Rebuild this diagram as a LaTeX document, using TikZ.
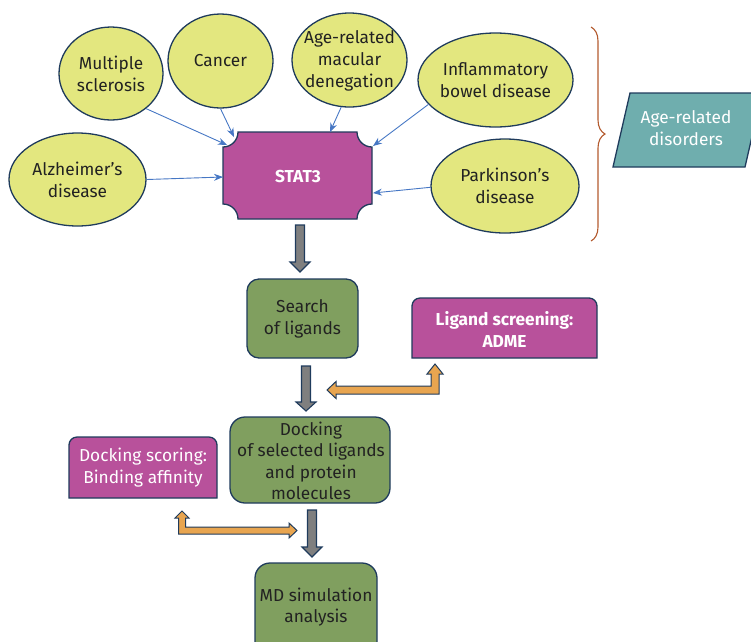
\documentclass[tikz,border=0pt]{standalone}
\usepackage{fontspec}
\setmainfont{Fira Sans}
\usetikzlibrary{shapes.geometric,arrows.meta,decorations.pathreplacing}
\definecolor{yel}{HTML}{E3E77F}
\definecolor{mag}{HTML}{B8519B}
\definecolor{grn}{HTML}{809F5F}
\definecolor{navy}{HTML}{1F3B5C}
\definecolor{barrow}{HTML}{4677C4}
\definecolor{teal2}{HTML}{6FAEAE}
\definecolor{brn}{HTML}{B35A2E}
\definecolor{org}{HTML}{E8A550}
\definecolor{gry}{HTML}{7F7F7F}
\definecolor{txt}{HTML}{222222}
\begin{document}
\begin{tikzpicture}[x=1pt,y=-1pt,
  dis/.style={ellipse,draw=navy,line width=1.3pt,fill=yel,inner sep=0pt},
  distext/.style={align=center,text=txt,font=\fontsize{17.3}{22}\selectfont},
  boxtext/.style={align=center,text=txt,font=\fontsize{17.3}{21.5}\selectfont},
  whitetext/.style={align=center,text=white,font=\fontsize{17.3}{21.5}\selectfont},
  whitebold/.style={align=center,text=white,font=\fontsize{17.3}{21.5}\selectfont\bfseries},
  outl/.style={draw=navy,line width=1.3pt},
  thin/.style={draw=barrow,line width=0.9pt,-{Stealth[length=9pt,width=7pt]}},
  blk/.style={draw=navy,line width=1.1pt,fill=gry},
  oblk/.style={draw=navy,line width=1pt,fill=org}]
\useasboundingbox (0,0) rectangle (751,641);

% disease ellipses
\node[dis,minimum width=104pt,minimum height=93pt] (ms) at (111,73.5) {};
\node[distext] at (ms) {Multiple\\sclerosis};
\node[dis,minimum width=105pt,minimum height=94pt] (can) at (220.5,61) {};
\node[distext] at (can) {Cancer};
\node[dis,minimum width=115pt,minimum height=94pt] (amd) at (349.5,60) {};
\node[distext] at (349.5,61) {Age-related\\macular\\denegation};
\node[dis,minimum width=155pt,minimum height=94pt] (ibd) at (495.5,80) {};
\node[distext] at (ibd) {Inflammatory\\bowel disease};
\node[dis,minimum width=137pt,minimum height=93pt] (alz) at (77.5,179.5) {};
\node[distext] at (alz) {Alzheimer's\\disease};
\node[dis,minimum width=148pt,minimum height=94pt] (park) at (505,186) {};
\node[distext] at (park) {Parkinson’s\\disease};

% STAT3
\draw[outl,fill=mag] (238,132) -- (357,132) .. controls (357,140.3) and (363.7,147) .. (372,147)
  -- (372,204) .. controls (363.7,204) and (357,210.7) .. (357,219)
  -- (238,219) .. controls (238,210.7) and (231.3,204) .. (223,204)
  -- (223,147) .. controls (231.3,147) and (238,140.3) .. (238,132) -- cycle;
\node[whitebold] (stat) at (298,176) {STAT3};
\coordinate (tms) at (227,145);
\coordinate (tcan) at (234,137);
\coordinate (tamd) at (330,132);
\coordinate (tibd) at (373,146);
\coordinate (talz) at (223,177);
\coordinate (tpark) at (373,193);
\draw[thin] (ms.-45) -- (tms);
\draw[thin] (can.-90) -- (tcan);
\draw[thin] (amd.-100) -- (tamd);
\draw[thin] (ibd.-160) -- (tibd);
\draw[thin] (alz.0) -- (talz);
\draw[thin] (park.181) -- (tpark);

% brace and age-related disorders
\draw[brn,line width=1.1pt,decorate,decoration={brace,amplitude=14pt}] (591,27) -- (591,241);
\draw[outl,fill=teal2] (630,93) -- (762,93) -- (745,167) -- (613,167) -- cycle;
\node[whitetext] (ard) at (686,128) {Age-related\\disorders};

% workflow boxes
\draw[outl,fill=grn,rounded corners=12pt] (247,279) rectangle (358,358);
\node[boxtext] (search) at (302.5,319) {Search\\of ligands};

\draw[outl,fill=mag] (412,358) -- (412,306) .. controls (412,301.6) and (415.6,298) .. (420,298)
  -- (589,298) .. controls (593.4,298) and (597,301.6) .. (597,306) -- (597,358) -- cycle;
\node[whitebold] (adme) at (504.5,329.5) {Ligand screening:\\ADME};

\draw[outl,fill=grn,rounded corners=15pt] (230,417) rectangle (390,503);
\node[boxtext] (dock) at (311,461) {Docking\\of selected ligands\\and protein\\molecules};

\draw[outl,fill=mag] (69,498) -- (69,445) .. controls (69,440.6) and (72.6,437) .. (77,437)
  -- (209,437) .. controls (213.4,437) and (217,440.6) .. (217,445) -- (217,498) -- cycle;
\node[whitetext] (dscore) at (143,467.5) {Docking scoring:\\Binding affinity};

\draw[outl,fill=grn,rounded corners=15pt] (255,563) rectangle (377,670);
\node[boxtext] (md) at (316,607) {MD simulation\\analysis};

% gray block arrows
\draw[blk] (295.5,225) -- (304.5,225) -- (304.5,262) -- (310,262) -- (300,272) -- (290,262) -- (295.5,262) -- cycle;
\draw[blk] (301.5,366) -- (310.5,366) -- (310.5,402) -- (316,402) -- (306,411) -- (296,402) -- (301.5,402) -- cycle;
\draw[blk] (307.5,510) -- (316.5,510) -- (316.5,547) -- (322,547) -- (312,557) -- (302,547) -- (307.5,547) -- cycle;

% orange double arrows
\draw[oblk] (327,390) -- (336,381.5) -- (336,386) -- (431,386) -- (431,374) -- (427,374) -- (435,364)
  -- (443,374) -- (439,374) -- (439,394) -- (336,394) -- (336,398.5) -- cycle;
\draw[oblk] (182,511) -- (189,518) -- (185.5,518) -- (185.5,527) -- (289,527) -- (289,523) -- (297,530.5)
  -- (289,538) -- (289,534) -- (178.5,534) -- (178.5,518) -- (175,518) -- cycle;
\end{tikzpicture}
\end{document}
